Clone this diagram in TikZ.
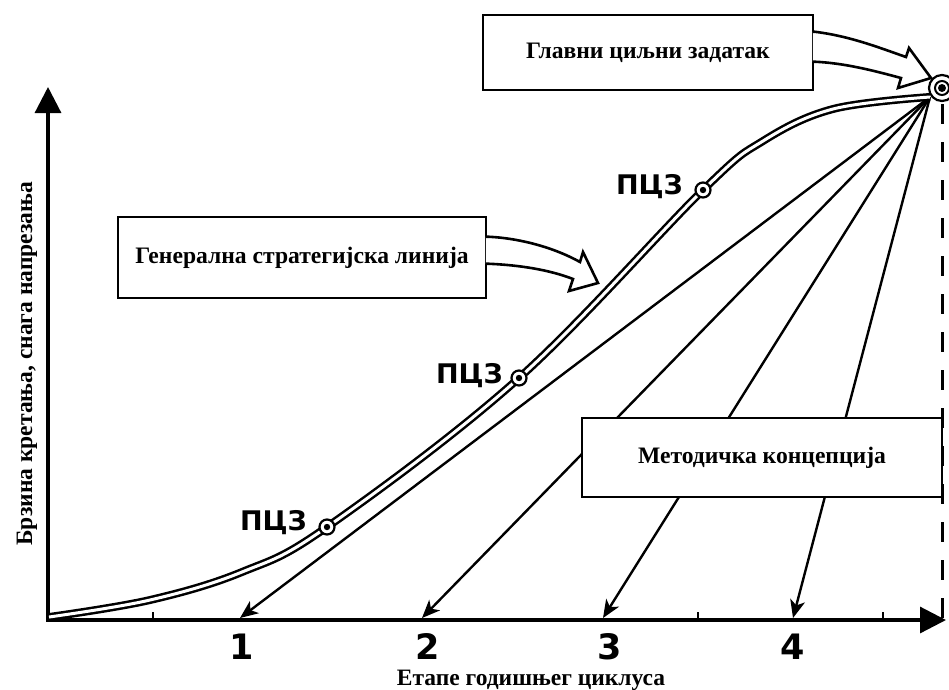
\documentclass[tikz,border=0pt]{standalone}
\usepackage{fontspec}
\setmainfont{Liberation Serif}
\newfontfamily\digitfont{DejaVu Sans}
\usetikzlibrary{arrows.meta, calc, positioning}

\tikzset{
  axis/.style={line width=3.2pt, line cap=rect, -{Triangle[length=26pt, width=26pt]}},
  fan/.style={line width=2.4pt, -{Stealth[length=18pt, width=15pt, inset=5pt]}},
  main line/.style={line width=2.5pt, double=white, double distance=3pt},
  framebox/.style={draw, fill=white, line width=2.6pt, inner sep=0pt,
    font=\bfseries\fontsize{23.6}{28}\selectfont},
  shaft/.style={draw, fill=white, line width=2.6pt, line join=miter},
  pcz/.style={circle, draw, fill=white, line width=2.2pt, minimum size=15pt, inner sep=0pt},
  pcz text/.style={font=\digitfont\bfseries\fontsize{27}{32}\selectfont},
  stage/.style={font=\digitfont\bfseries\fontsize{35}{40}\selectfont, anchor=base},
  axis text/.style={font=\bfseries\fontsize{23.5}{28}\selectfont, anchor=base}
}

\begin{document}
\begin{tikzpicture}[x=1pt, y=-1pt]
  \useasboundingbox (0,0) rectangle (949,689);

  \coordinate (O) at (48,620);
  \coordinate (hub) at (930,97);
  \coordinate (s1) at (240,618);
  \coordinate (s2) at (422,618);
  \coordinate (s3) at (603,618);
  \coordinate (s4) at (793,618);

  \draw[axis] (O) -- (946,620); % x axis
  \draw[axis] (O) -- (48,87);   % y axis
  \foreach \x in {153,698,883}
    \draw[line width=1.6pt] (\x,620) -- (\x,612);

  % dashed drop from the goal
  \draw[line width=3pt, dash pattern=on 20pt off 18pt] (942,104) -- (942,620);

  % methodical lines from the goal to every stage
  \draw[fan] (hub) -- (s1);
  \draw[fan] (hub) -- (s2);
  \draw[fan] (hub) -- (s3);
  \draw[fan] (hub) -- (s4);

  % general strategic line
  \draw[main line] plot[smooth, tension=0.6] coordinates {(49,617) (150,600) (242,572) (327,527) (519,378) (703,190) (763,141) (833,109) (hub)};

  \node[pcz] (z1) at (327,527) {};
  \node[pcz] (z2) at (519,378) {};
  \node[pcz] (z3) at (703,190) {};
  \fill (z1) circle (3.2pt);
  \fill (z2) circle (3.2pt);
  \fill (z3) circle (3.2pt);
  \node[pcz text, left=8pt of z1, yshift=4pt] (l1) {ПЦЗ};
  \node[pcz text, left=4pt of z2, yshift=2pt] (l2) {ПЦЗ};
  \node[pcz text, left=8pt of z3, yshift=3pt] (l3) {ПЦЗ};

  % boxes
  \node[framebox, minimum width=330pt, minimum height=75pt] (goal box) at (648,52.5) {Главни циљни задатак};
  \node[framebox, minimum width=368pt, minimum height=81pt] (line box) at (302,257.5) {Генерална стратегијска линија};
  \node[framebox, minimum width=360pt, minimum height=79pt] (method box) at (762,457.5) {Методичка концепција};

  % block arrows out of the boxes
  \coordinate (ga1) at ($(goal box.north east)+(0,18)$);
  \coordinate (ga2) at ($(goal box.north east)+(0,48)$);
  \path[shaft] ($(ga1)+(-1.5,0)$) -- (ga1) .. controls (850,36) and (880,48) .. (906,57)
    -- (909,48) -- (931,78) -- (898,88) -- (901,78)
    .. controls (875,71) and (845,63) .. (ga2) -- ($(ga2)+(-1.5,0)$);
  \coordinate (la1) at ($(line box.north east)+(0,21)$);
  \coordinate (la2) at ($(line box.north east)+(0,48)$);
  \path[shaft] ($(la1)+(-1.5,0)$) -- (la1) .. controls (520,238) and (555,248) .. (580,262)
    -- (583,252) -- (598,283) -- (569,291) -- (573,279)
    .. controls (550,270) and (520,265) .. (la2) -- ($(la2)+(-1.5,0)$);

  % main goal
  \node[circle, draw, fill=white, line width=2.2pt, minimum size=26pt, inner sep=0pt] (goal) at (942,88) {};
  \draw[line width=2pt] (goal) circle (7pt);
  \fill (goal) circle (4pt);

  % stages and axis labels
  \node[stage] (n1) at (242,659) {1};
  \node[stage] (n2) at (428,659) {2};
  \node[stage] (n3) at (610,659) {3};
  \node[stage] (n4) at (793,659) {4};
  \node[axis text] (xlabel) at (531,685) {Етапе годишњег циклуса};
  \node[axis text, rotate=90] (ylabel) at (32,364) {Брзина кретања, снага напрезања};
\end{tikzpicture}
\end{document}
